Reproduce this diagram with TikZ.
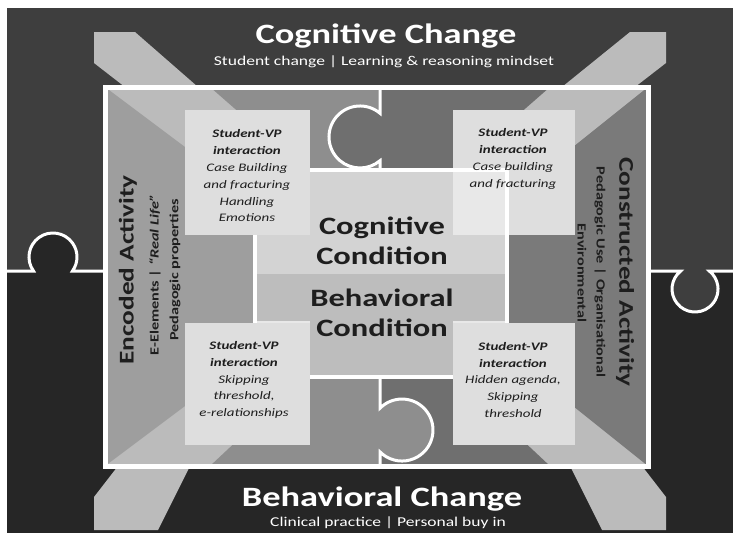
\documentclass[tikz,border=0pt]{standalone}
\usepackage{fontspec}
\setmainfont{Carlito}[FakeStretch=1.3]
\definecolor{bgtop}{HTML}{3E3E3E}
\definecolor{bgbot}{HTML}{262626}
\definecolor{bandgray}{HTML}{BBBBBB}
\definecolor{leftgray}{HTML}{9E9E9E}
\definecolor{rightgray}{HTML}{7A7A7A}
\definecolor{pieceL}{HTML}{8E8E8E}
\definecolor{pieceR}{HTML}{6F6F6F}
\definecolor{boxgray}{HTML}{DEDEDE}
\definecolor{corelight}{HTML}{E8E8E8}
\definecolor{cogngray}{HTML}{D3D3D3}
\definecolor{behgray}{HTML}{BDBDBD}
\definecolor{inkgray}{HTML}{1E1E1E}
\tikzset{
  seam/.style={draw=white, line width=3pt},
  vpbox/.style={fill=boxgray},
  vptext/.style={align=center, text=inkgray, font=\fontsize{11.5}{16.8}\selectfont\itshape},
  headtext/.style={text=white, font=\fontsize{28}{30}\selectfont\bfseries},
  subtext/.style={text=white, font=\fontsize{13.5}{15}\selectfont},
  condtext/.style={align=center, text=inkgray, font=\fontsize{25}{30}\selectfont\bfseries},
  sidehead/.style={text=inkgray, font=\fontsize{21}{24}\selectfont\bfseries},
  sidesub/.style={text=inkgray, font=\fontsize{12.5}{14}\selectfont\bfseries}
}
\begin{document}
\begin{tikzpicture}[x=1pt,y=-1pt]
  \useasboundingbox (0,0) rectangle (740,533);
  \fill[white] (0,0) rectangle (740,533);

  % dark ground and the two outer puzzle seams
  \fill[bgtop] (7,8) rectangle (733,271);
  \fill[bgbot] (7,271) rectangle (733,533);
  \fill[bgbot] (33.5,271) arc[start angle=144.3, end angle=395.7, radius=24] -- cycle;
  \fill[bgtop] (680.7,271) arc[start angle=231.5, end angle=-51.5, radius=23] -- cycle;
  \draw[seam] (7,271) -- (33.5,271) arc[start angle=144.3, end angle=395.7, radius=24] -- (105,271);
  \draw[seam] (648,271) -- (680.7,271) arc[start angle=231.5, end angle=-51.5, radius=23] -- (733,271);

  % ends of the grey cross
  \fill[bandgray] (94,32) -- (135,32) -- (198,87) -- (125,87) -- (94,63) -- cycle;
  \fill[bandgray] (666,32) -- (630,32) -- (562,87) -- (635,87) -- (666,63) -- cycle;
  \fill[bandgray] (94,530) -- (94,497) -- (118,466) -- (190,466) -- (158,530) -- cycle;
  \fill[bandgray] (666,530) -- (666,497) -- (642,466) -- (570,466) -- (602,530) -- cycle;

  % inside the frame
  \fill[bandgray] (105,87) rectangle (648,466);
  \fill[leftgray] (105,87) -- (185,147) -- (185,406) -- (105,466) -- cycle;
  \fill[rightgray] (648,87) -- (573,147) -- (573,406) -- (648,466) -- cycle;
  \fill[pieceL] (210,87) -- (380,87) -- (380,170) -- (305,170) -- cycle;
  \fill[pieceR] (380,87) -- (550,87) -- (455,170) -- (380,170) -- cycle;
  \fill[pieceL] (210,466) -- (380,466) -- (380,377) -- (305,377) -- cycle;
  \fill[pieceR] (380,466) -- (550,466) -- (455,377) -- (380,377) -- cycle;
  \fill[leftgray] (185,233) rectangle (257,325);
  \fill[rightgray] (505,233) rectangle (573,325);

  \fill[vpbox] (453,110) rectangle (575,235);
  \filldraw[fill=corelight, draw=white, line width=4pt] (255,170) rectangle (507,377);
  \fill[vpbox] (185,110) rectangle (310,235);
  \fill[vpbox] (185,323) rectangle (310,445);
  \fill[vpbox] (453,323) rectangle (575,445);

  \fill[cogngray] (310,172) rectangle (453,235);
  \fill[cogngray] (257,235) rectangle (505,274);
  \fill[behgray] (257,274) rectangle (505,321);
  \fill[behgray] (310,321) rectangle (453,375);

  % inner puzzle seams
  \fill[pieceR] (380,113.3) arc[start angle=-49.8, end angle=-310.2, radius=31] -- cycle;
  \draw[seam] (380,87) -- (380,113.3) arc[start angle=-49.8, end angle=-310.2, radius=31] -- (380,170);
  \fill[pieceL] (380,408.2) arc[start angle=224.8, end angle=495.2, radius=31] -- cycle;
  \draw[seam] (380,377) -- (380,408.2) arc[start angle=224.8, end angle=495.2, radius=31] -- (380,466);

  \draw[white, line width=5pt] (105,87) rectangle (648,466);

  % texts
  \node[headtext] (cogchange) at (386,36) {Cognitive Change};
  \node[subtext] (cogsub) at (384,62) {Student change | Learning \& reasoning mindset};
  \node[headtext] (behchange) at (382,499) {Behavioral Change};
  \node[subtext] (behsub) at (388,523) {Clinical practice | Personal buy in};

  \node[condtext] (cogcond) at (382,241) {Cognitive\\Condition};
  \node[condtext] (behcond) at (382,313) {Behavioral\\Condition};

  \node[sidehead, rotate=90] (enchead) at (128,270) {Encoded Activity};
  \node[sidesub, rotate=90] (encsubA) at (155,275) {E-Elements | \textit{“Real Life”}};
  \node[sidesub, rotate=90] (encsubB) at (175,270) {Pedagogic properties};
  \node[sidehead, rotate=-90] (conhead) at (625,272) {Constructed Activity};
  \node[sidesub, rotate=-90] (consubA) at (600,272) {Pedagogic Use | Organisational};
  \node[sidesub, rotate=-90] (consubB) at (582,273) {Environmental};

  \node[vptext] (vptl) at (247,176) {\textbf{Student-VP}\\\textbf{interaction}\\Case Building\\and fracturing\\Handling\\Emotions};
  \node[vptext] (vptr) at (513,159) {\textbf{Student-VP}\\\textbf{interaction}\\Case building\\and fracturing};
  \node[vptext] (vpbl) at (244,380) {\textbf{Student-VP}\\\textbf{interaction}\\Skipping\\threshold,\\e-relationships};
  \node[vptext] (vpbr) at (513,380) {\textbf{Student-VP}\\\textbf{interaction}\\Hidden agenda,\\Skipping\\threshold};
\end{tikzpicture}
\end{document}
